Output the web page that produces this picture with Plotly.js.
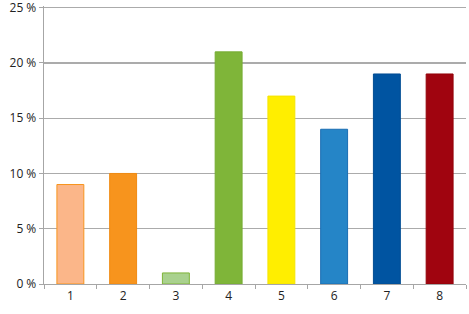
<!DOCTYPE html>
<html><head><meta charset="utf-8">
<script src="https://cdn.plot.ly/plotly-3.0.1.min.js"></script>
<style>html,body{margin:0;padding:0;background:#fff}#c{width:469px;height:314px}</style>
</head><body><div id="c"></div>
<script>
const categories = ["1","2","3","4","5","6","7","8"];
const values = [9, 10, 1, 21, 17, 14, 19, 19];
const fillColors = ["#FBB689","#F7941D","#A9D18E","#7FB539","#FFEE00","#2585C7","#0054A1","#A0040F"];
const lineColors = ["#F7941D","#F08A12","#7FB539","#76AC33","#F5E400","#1A6DB3","#004C93","#930209"];
const yTicks = [0,5,10,15,20,25];

Plotly.newPlot("c", [{
  type: "bar",
  x: categories,
  y: values,
  width: 0.51,
  marker: {color: fillColors, line: {color: lineColors, width: 1}},
  hoverinfo: "none"
}], {
  width: 469, height: 314,
  margin: {l: 44, r: 3, t: 5.8, b: 30, pad: 0},
  paper_bgcolor: "#fff", plot_bgcolor: "#fff",
  showlegend: false,
  font: {family: "'Open Sans', sans-serif", size: 12, color: "#222"},
  xaxis: {
    type: "category",
    tickson: "boundaries",
    ticks: "outside", ticklen: 4, tickcolor: "#A6A6A6", tickwidth: 1,
    showline: true, linecolor: "#A6A6A6", linewidth: 1.3,
    showgrid: false, zeroline: false,
    tickfont: {size: 12, color: "#222"},
    automargin: false,
    fixedrange: true
  },
  yaxis: {
    range: [0, 25.15],
    tickmode: "array",
    tickvals: yTicks,
    ticktext: yTicks.map(v => v + " %"),
    ticklabeloverflow: "allow",
    ticks: "outside", ticklen: 4, tickcolor: "#A6A6A6", tickwidth: 1,
    showline: true, linecolor: "#A6A6A6", linewidth: 1.3,
    showgrid: true, gridcolor: "#ABABAB", gridwidth: 1.3,
    zeroline: false,
    tickfont: {size: 12, color: "#222"},
    automargin: false,
    fixedrange: true
  },
  bargap: 0.49
}, {displayModeBar: false, staticPlot: true});
</script></body></html>
